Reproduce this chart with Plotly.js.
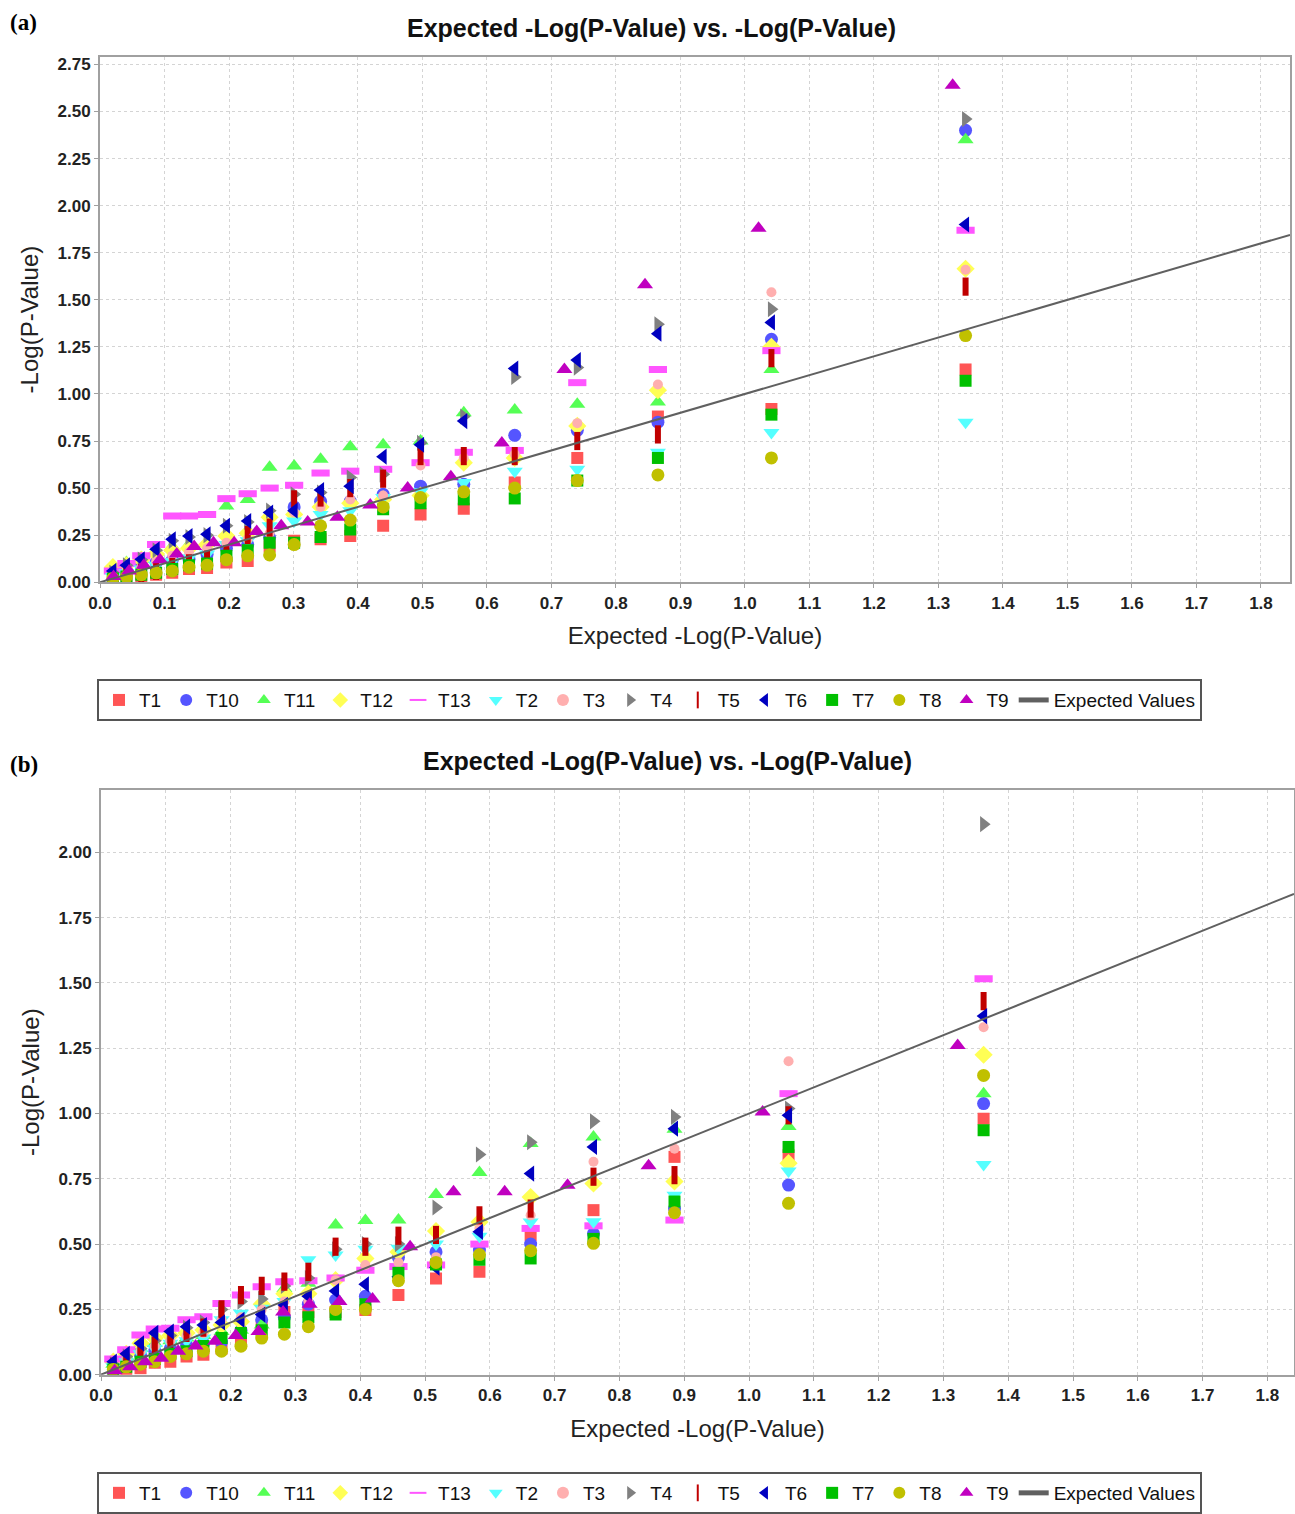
<!DOCTYPE html>
<html><head><meta charset="utf-8">
<script src="https://cdn.plot.ly/plotly-3.0.1.min.js"></script>
<style>html,body{margin:0;padding:0;background:#fff}#chart{width:1295px;height:1514px}</style>
</head><body><div id="chart"></div>
<script>
// ---------- DATA ----------
const seriesNames = ['T1','T10','T11','T12','T13','T2','T3','T4','T5','T6','T7','T8','T9'];
const lineName = 'Expected Values';

// Panel (a): expected -log(p) positions
const xA  = [1.342, 1.041, 0.865, 0.740, 0.643, 0.564, 0.497, 0.439, 0.388, 0.342, 0.301, 0.263, 0.229, 0.196, 0.166, 0.138, 0.112, 0.087, 0.064, 0.041, 0.020];
const xA9 = [1.322, 1.021, 0.845, 0.720, 0.623, 0.544, 0.477, 0.419, 0.368, 0.322, 0.281, 0.243, 0.208, 0.176, 0.146, 0.119, 0.093, 0.068, 0.045, 0.021];
const expectedA = [0, 1.845];

const a_T1  = [1.13, 0.92, 0.88, 0.66, 0.53, 0.39, 0.36, 0.30, 0.245, 0.228, 0.22, 0.19, 0.113, 0.105, 0.075, 0.07, 0.05, 0.04, 0.027, 0.016, 0.01];
const a_T10 = [2.40, 1.29, 0.85, 0.807, 0.78, 0.52, 0.51, 0.467, 0.43, 0.43, 0.40, 0.237, 0.20, 0.18, 0.148, 0.122, 0.118, 0.105, 0.087, 0.06, 0.053];
const a_T11 = [2.35, 1.13, 0.957, 0.945, 0.915, 0.90, 0.75, 0.73, 0.72, 0.653, 0.617, 0.61, 0.44, 0.405, 0.207, 0.20, 0.19, 0.16, 0.122, 0.105, 0.07];
const a_T12 = [1.665, 1.25, 1.02, 0.83, 0.66, 0.635, 0.46, 0.44, 0.42, 0.40, 0.36, 0.345, 0.26, 0.245, 0.20, 0.18, 0.17, 0.15, 0.12, 0.09, 0.08];
const a_T13 = [1.87, 1.23, 1.13, 1.06, 0.70, 0.69, 0.635, 0.60, 0.59, 0.58, 0.515, 0.50, 0.47, 0.444, 0.36, 0.352, 0.352, 0.20, 0.14, 0.10, 0.06];
const a_T2  = [0.85, 0.795, 0.69, 0.60, 0.59, 0.53, 0.48, 0.45, 0.38, 0.36, 0.325, 0.30, 0.22, 0.20, 0.15, 0.13, 0.11, 0.09, 0.07, 0.05, 0.03];
const a_T3  = [1.66, 1.54, 1.05, 0.845, 0.68, 0.66, 0.62, 0.46, 0.44, 0.40, 0.37, 0.26, 0.23, 0.21, 0.18, 0.16, 0.14, 0.11, 0.08, 0.05, 0.03];
const a_T4  = [2.46, 1.45, 1.37, 1.14, 1.09, 0.88, 0.74, 0.573, 0.556, 0.476, 0.467, 0.38, 0.32, 0.30, 0.25, 0.24, 0.22, 0.17, 0.12, 0.09, 0.05];
const a_T5  = [1.57, 1.19, 0.785, 0.75, 0.67, 0.67, 0.67, 0.55, 0.50, 0.45, 0.44, 0.29, 0.25, 0.15, 0.12, 0.10, 0.08, 0.06, 0.05, 0.03, 0.02];
const a_T6  = [1.90, 1.38, 1.32, 1.18, 1.135, 0.856, 0.73, 0.667, 0.51, 0.49, 0.38, 0.37, 0.325, 0.30, 0.255, 0.245, 0.228, 0.175, 0.122, 0.09, 0.06];
const a_T7  = [1.07, 0.89, 0.66, 0.54, 0.445, 0.44, 0.42, 0.387, 0.28, 0.24, 0.21, 0.21, 0.17, 0.14, 0.10, 0.09, 0.07, 0.05, 0.04, 0.03, 0.02];
const a_T8  = [1.31, 0.66, 0.57, 0.54, 0.50, 0.48, 0.45, 0.40, 0.33, 0.30, 0.20, 0.145, 0.14, 0.12, 0.09, 0.08, 0.06, 0.05, 0.04, 0.03, 0.02];
const a_T9  = [2.64, 1.88, 1.58, 1.13, 0.74, 0.56, 0.50, 0.41, 0.345, 0.32, 0.30, 0.27, 0.21, 0.21, 0.19, 0.15, 0.12, 0.09, 0.06, 0.03];

// Panel (b): expected -log(p) positions
const xB  = [1.362, 1.061, 0.885, 0.760, 0.663, 0.584, 0.517, 0.459, 0.408, 0.362, 0.320, 0.283, 0.248, 0.216, 0.186, 0.158, 0.132, 0.107, 0.083, 0.061, 0.039, 0.019];
const xB9 = [1.322, 1.021, 0.845, 0.720, 0.623, 0.544, 0.477, 0.419, 0.368, 0.322, 0.281, 0.243, 0.208, 0.176, 0.146, 0.119, 0.093, 0.068, 0.045, 0.021];
const expectedB = [0, 1.841];

const b_T1  = [0.98, 0.84, 0.834, 0.63, 0.534, 0.394, 0.368, 0.305, 0.248, 0.24, 0.24, 0.24, 0.19, 0.127, 0.10, 0.076, 0.07, 0.05, 0.046, 0.025, 0.013, 0.01];
const b_T10 = [1.038, 0.726, 0.636, 0.54, 0.50, 0.477, 0.47, 0.449, 0.30, 0.286, 0.27, 0.22, 0.21, 0.17, 0.125, 0.12, 0.114, 0.10, 0.09, 0.076, 0.057, 0.05];
const b_T11 = [1.076, 0.95, 0.94, 0.91, 0.885, 0.774, 0.69, 0.592, 0.59, 0.573, 0.35, 0.33, 0.19, 0.17, 0.165, 0.15, 0.14, 0.13, 0.12, 0.10, 0.07, 0.04];
const b_T12 = [1.225, 0.81, 0.74, 0.732, 0.68, 0.585, 0.55, 0.47, 0.445, 0.362, 0.31, 0.31, 0.27, 0.203, 0.19, 0.171, 0.16, 0.15, 0.14, 0.12, 0.08, 0.05];
const b_T13 = [1.516, 1.076, 0.592, 0.57, 0.56, 0.50, 0.42, 0.414, 0.40, 0.37, 0.36, 0.356, 0.337, 0.305, 0.273, 0.222, 0.21, 0.178, 0.175, 0.152, 0.095, 0.06];
const b_T2  = [0.805, 0.78, 0.687, 0.586, 0.585, 0.53, 0.50, 0.484, 0.48, 0.458, 0.44, 0.28, 0.254, 0.235, 0.21, 0.14, 0.13, 0.12, 0.10, 0.08, 0.05, 0.03];
const b_T3  = [1.33, 1.20, 0.865, 0.815, 0.61, 0.56, 0.45, 0.43, 0.42, 0.362, 0.28, 0.28, 0.25, 0.22, 0.21, 0.16, 0.15, 0.13, 0.11, 0.09, 0.06, 0.03];
const b_T4  = [2.108, 1.019, 0.987, 0.97, 0.89, 0.843, 0.64, 0.50, 0.50, 0.48, 0.37, 0.34, 0.29, 0.28, 0.25, 0.20, 0.18, 0.15, 0.13, 0.10, 0.07, 0.04];
const b_T5  = [1.43, 0.993, 0.764, 0.758, 0.636, 0.61, 0.535, 0.532, 0.49, 0.49, 0.394, 0.356, 0.34, 0.305, 0.25, 0.18, 0.16, 0.13, 0.11, 0.08, 0.05, 0.03];
const b_T6  = [1.373, 0.993, 0.942, 0.872, 0.77, 0.547, 0.41, 0.375, 0.346, 0.32, 0.30, 0.267, 0.23, 0.21, 0.20, 0.19, 0.184, 0.165, 0.16, 0.12, 0.08, 0.05];
const b_T7  = [0.936, 0.872, 0.663, 0.52, 0.445, 0.44, 0.422, 0.39, 0.27, 0.23, 0.22, 0.20, 0.17, 0.16, 0.14, 0.11, 0.09, 0.08, 0.06, 0.05, 0.03, 0.02];
const b_T8  = [1.146, 0.656, 0.62, 0.503, 0.475, 0.46, 0.43, 0.36, 0.25, 0.25, 0.184, 0.155, 0.14, 0.109, 0.09, 0.09, 0.08, 0.07, 0.05, 0.04, 0.03, 0.02];
const b_T9  = [1.26, 1.006, 0.80, 0.725, 0.70, 0.70, 0.49, 0.29, 0.28, 0.27, 0.24, 0.165, 0.15, 0.128, 0.11, 0.09, 0.063, 0.05, 0.03, 0.015];

const titleText = 'Expected -Log(P-Value) vs. -Log(P-Value)';
const xTitle = 'Expected -Log(P-Value)';
const yTitle = '-Log(P-Value)';

// ---------- STYLES ----------
const styles = {
  T1:  {symbol:'square',         color:'rgb(255,85,85)',   size:12},
  T10: {symbol:'circle',         color:'rgb(85,85,255)',   size:13},
  T11: {symbol:'triangle-up',    color:'rgb(85,255,85)',   size:14},
  T12: {symbol:'diamond',        color:'rgb(255,255,85)',  size:14},
  T13: {symbol:'line-ew',        color:'rgb(255,85,255)',  size:13, lw:7},
  T2:  {symbol:'triangle-down',  color:'rgb(85,255,255)',  size:14},
  T3:  {symbol:'circle',         color:'rgb(255,175,175)', size:10},
  T4:  {symbol:'triangle-right', color:'rgb(128,128,128)', size:14},
  T5:  {symbol:'line-ns',        color:'rgb(192,0,0)',     size:13, lw:6},
  T6:  {symbol:'triangle-left',  color:'rgb(0,0,192)',     size:14},
  T7:  {symbol:'square',         color:'rgb(0,192,0)',     size:12},
  T8:  {symbol:'circle',         color:'rgb(192,192,0)',   size:13},
  T9:  {symbol:'triangle-up',    color:'rgb(192,0,192)',   size:14}
};

const panelA = {T1:a_T1,T10:a_T10,T11:a_T11,T12:a_T12,T13:a_T13,T2:a_T2,T3:a_T3,T4:a_T4,T5:a_T5,T6:a_T6,T7:a_T7,T8:a_T8,T9:a_T9};
const panelB = {T1:b_T1,T10:b_T10,T11:b_T11,T12:b_T12,T13:b_T13,T2:b_T2,T3:b_T3,T4:b_T4,T5:b_T5,T6:b_T6,T7:b_T7,T8:b_T8,T9:b_T9};

function makeTraces(panel, xs, xs9, exp, xa, ya, legendId) {
  const out = [];
  seriesNames.forEach(n => {
    const s = styles[n];
    const mk = {symbol:s.symbol, color:s.color, size:s.size, opacity:1};
    if (s.lw) mk.line = {color:s.color, width:s.lw};
    out.push({type:'scatter', mode:'markers', name:n, x:(n==='T9'?xs9:xs), y:panel[n],
      xaxis:xa, yaxis:ya, marker:mk, legend:legendId, hoverinfo:'skip'});
  });
  out.push({type:'scatter', mode:'lines', name:lineName, x:exp, y:exp, xaxis:xa, yaxis:ya,
    line:{color:'#606060', width:2}, legend:legendId, hoverinfo:'skip'});
  return out;
}

const data = makeTraces(panelA, xA, xA9, expectedA, 'x', 'y', 'legend')
  .concat(makeTraces(panelB, xB, xB9, expectedB, 'x2', 'y2', 'legend2'));

const W = 1295, H = 1514;
const tickFont = {family:'Liberation Sans, Arial, sans-serif', size:17, weight:'bold', color:'#222'};
const axTitleFont = {family:'Liberation Sans, Arial, sans-serif', size:24, color:'#222'};
function xax(d0, d1, r, anchor) {
  return {domain:[d0/W, d1/W], range:[0, r], dtick:0.1, tick0:0, tickformat:'.1f', anchor:anchor,
    showgrid:true, gridcolor:'#d4d4d4', griddash:'dot', gridwidth:1, zeroline:false,
    showline:true, mirror:true, linecolor:'#a0a0a0', linewidth:2,
    ticks:'outside', ticklen:4, tickcolor:'#a0a0a0', tickfont:tickFont, automargin:false,
    title:{text:xTitle, font:axTitleFont, standoff:16}};
}
function yax(top, bot, r, anchor) {
  return {domain:[1-bot/H, 1-top/H], range:[0, r], dtick:0.25, tick0:0, tickformat:'.2f', anchor:anchor,
    showgrid:true, gridcolor:'#d4d4d4', griddash:'dot', gridwidth:1, zeroline:false,
    showline:true, mirror:true, linecolor:'#a0a0a0', linewidth:2,
    ticks:'outside', ticklen:4, tickcolor:'#a0a0a0', tickfont:tickFont, automargin:false,
    title:{text:yTitle, font:axTitleFont, standoff:12}};
}
const legFont = {family:'Liberation Sans, Arial, sans-serif', size:19, color:'#111'};
const layout = {
  width:W, height:H, margin:{l:0,r:0,t:0,b:0}, paper_bgcolor:'#fff', plot_bgcolor:'#fff',
  xaxis: xax(100, 1290, 1.845, 'y'),
  yaxis: yax(57, 583, 2.79, 'x'),
  xaxis2: xax(101, 1294, 1.841, 'y2'),
  yaxis2: yax(790.7, 1376.5, 2.24, 'x2'),
  legend: {orientation:'h', x:97/W, y:1-680/H, xanchor:'left', yanchor:'top', xref:'paper', yref:'paper',
    bordercolor:'#555', borderwidth:2, bgcolor:'#fff', font:legFont, itemsizing:'constant', traceorder:'normal'},
  legend2: {orientation:'h', x:97/W, y:1-1474/H, xanchor:'left', yanchor:'top', xref:'paper', yref:'paper',
    bordercolor:'#555', borderwidth:2, bgcolor:'#fff', font:legFont, itemsizing:'constant', traceorder:'normal'},
  annotations: [
    {text:'<b>(a)</b>', x:8/W, y:1-23/H, xref:'paper', yref:'paper', xanchor:'left', yanchor:'middle', showarrow:false,
      font:{family:'Liberation Serif, Times New Roman, serif', size:23, color:'#000'}},
    {text:'<b>(b)</b>', x:8/W, y:1-766/H, xref:'paper', yref:'paper', xanchor:'left', yanchor:'middle', showarrow:false,
      font:{family:'Liberation Serif, Times New Roman, serif', size:23, color:'#000'}},
    {text:'<b>'+titleText+'</b>', x:651/W, y:1-28/H, xref:'paper', yref:'paper', xanchor:'center', yanchor:'middle', showarrow:false,
      font:{family:'Liberation Sans, Arial, sans-serif', size:25, color:'#111'}},
    {text:'<b>'+titleText+'</b>', x:667/W, y:1-762/H, xref:'paper', yref:'paper', xanchor:'center', yanchor:'middle', showarrow:false,
      font:{family:'Liberation Sans, Arial, sans-serif', size:25, color:'#111'}}
  ]
};
Plotly.newPlot('chart', data, layout, {staticPlot:true, displayModeBar:false});
</script></body></html>
